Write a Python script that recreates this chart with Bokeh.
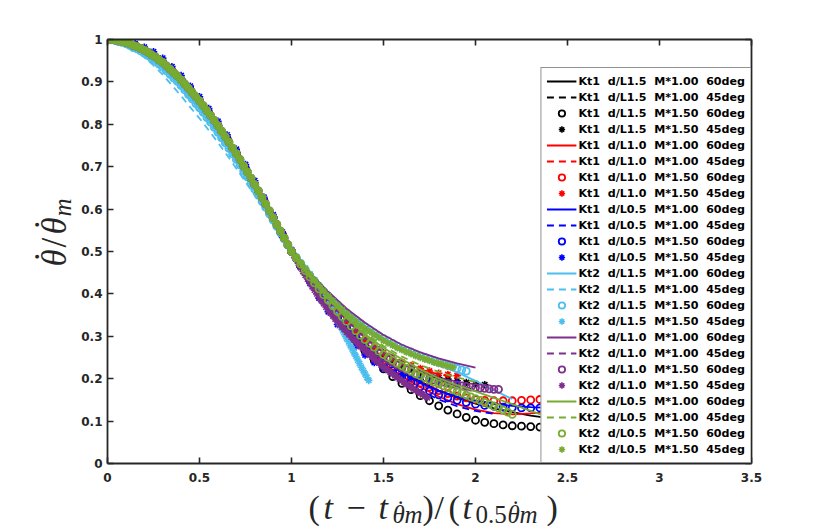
import math
from bokeh.plotting import figure
from bokeh.models import Range1d, LinearAxis, FixedTicker, Label
from bokeh.layouts import column, row
from bokeh.embed import file_html
from bokeh.resources import INLINE

# ---------------- data ----------------
X_TICKS = [0, 0.5, 1, 1.5, 2, 2.5, 3, 3.5]
X_TICK_LABELS = ["0", "0.5", "1", "1.5", "2", "2.5", "3", "3.5"]
Y_TICKS = [0, 0.1, 0.2, 0.3, 0.4, 0.5, 0.6, 0.7, 0.8, 0.9, 1]
Y_TICK_LABELS = ["0", "0.1", "0.2", "0.3", "0.4", "0.5", "0.6", "0.7", "0.8", "0.9", "1"]

# common early part of the curves (x <= 1)
HEAD1_X = [0.00, 0.05, 0.10, 0.15, 0.20, 0.25, 0.30, 0.35, 0.40, 0.45, 0.50,
           0.55, 0.60, 0.65, 0.70, 0.75, 0.80, 0.85, 0.90, 0.95, 1.00]
HEAD1_Y = [1.000, 0.998, 0.993, 0.985, 0.975, 0.962, 0.946, 0.926, 0.905, 0.880, 0.855,
           0.827, 0.797, 0.765, 0.731, 0.695, 0.658, 0.620, 0.580, 0.540, 0.500]
HEAD1_Y_HI = [1.000, 0.999, 0.996, 0.990, 0.982, 0.971, 0.956, 0.936, 0.915, 0.890, 0.865,
              0.837, 0.807, 0.775, 0.741, 0.705, 0.667, 0.628, 0.587, 0.546, 0.504]
HEAD1_Y_LB = [1.000, 0.996, 0.987, 0.974, 0.958, 0.939, 0.917, 0.892, 0.867, 0.840, 0.814,
              0.786, 0.757, 0.727, 0.696, 0.664, 0.632, 0.600, 0.566, 0.533, 0.500]

HEAD2_X = [0.00, 0.02, 0.04, 0.06, 0.08, 0.10, 0.12, 0.14, 0.16, 0.18, 0.20, 0.22, 0.24,
           0.26, 0.28, 0.30, 0.32, 0.34, 0.36, 0.38, 0.40, 0.42, 0.44, 0.46, 0.48, 0.50,
           0.52, 0.54, 0.56, 0.58, 0.60, 0.62, 0.64, 0.66, 0.68, 0.70, 0.72, 0.74, 0.76,
           0.78, 0.80, 0.82, 0.84, 0.86, 0.88, 0.90, 0.92, 0.94, 0.96, 0.98, 1.00]
HEAD2_Y = [1.000, 1.000, 0.999, 0.997, 0.995, 0.993, 0.990, 0.986, 0.983, 0.979, 0.975,
           0.970, 0.964, 0.959, 0.952, 0.946, 0.938, 0.930, 0.922, 0.914, 0.905, 0.895,
           0.885, 0.875, 0.865, 0.855, 0.844, 0.832, 0.821, 0.809, 0.797, 0.784, 0.771,
           0.758, 0.744, 0.731, 0.717, 0.702, 0.688, 0.673, 0.658, 0.643, 0.627, 0.612,
           0.596, 0.580, 0.564, 0.548, 0.532, 0.516, 0.500]
HEAD2_Y_LB = [1.000, 0.999, 0.998, 0.995, 0.993, 0.990, 0.986, 0.981, 0.978, 0.973, 0.968,
              0.962, 0.955, 0.950, 0.942, 0.935, 0.926, 0.918, 0.909, 0.901, 0.891, 0.881,
              0.870, 0.860, 0.849, 0.839, 0.828, 0.816, 0.805, 0.793, 0.781, 0.768, 0.756,
              0.743, 0.730, 0.717, 0.704, 0.689, 0.676, 0.661, 0.647, 0.633, 0.618, 0.604,
              0.589, 0.574, 0.559, 0.544, 0.530, 0.515, 0.500]

# x of the later part
LINE_TX = [1.1, 1.2, 1.3, 1.4, 1.5, 1.6, 1.7, 1.8, 1.9, 2.0, 2.1, 2.2, 2.3, 2.4]
TAIL1_X = [1.05, 1.10, 1.15, 1.20, 1.25, 1.30, 1.35, 1.40, 1.45, 1.50, 1.55, 1.60, 1.65,
           1.70, 1.75, 1.80, 1.85, 1.90, 1.95, 2.00, 2.05, 2.10, 2.15, 2.20, 2.25, 2.30,
           2.35, 2.40, 2.45, 2.50]
TAIL2_X = [1.025, 1.050, 1.075, 1.100, 1.125, 1.150, 1.175, 1.200, 1.225, 1.250, 1.275,
           1.300, 1.325, 1.350, 1.375, 1.400, 1.425, 1.450, 1.475, 1.500, 1.525, 1.550,
           1.575, 1.600, 1.625, 1.650, 1.675, 1.700, 1.725, 1.750, 1.775, 1.800, 1.825,
           1.850, 1.875, 1.900, 1.925, 1.950, 1.975, 2.000, 2.025, 2.050, 2.075, 2.100,
           2.125, 2.150, 2.175, 2.200]

# later part of every series (y)
BK_SOLID = [0.435, 0.376, 0.326, 0.284, 0.248, 0.218, 0.193, 0.172, 0.155, 0.141, 0.130, 0.121, 0.113, 0.107]
BK_DASH = [0.440, 0.385, 0.338, 0.298, 0.265, 0.238, 0.216, 0.198, 0.184, 0.173]
BK_CIRC = [0.466, 0.433, 0.401, 0.370, 0.342, 0.315, 0.289, 0.265, 0.243, 0.223, 0.205, 0.189,
           0.174, 0.160, 0.148, 0.136, 0.126, 0.117, 0.109, 0.102, 0.097, 0.094, 0.091, 0.089,
           0.088, 0.087, 0.086, 0.085, 0.085, 0.084]
BK_STAR = [0.468, 0.437, 0.407, 0.379, 0.353, 0.329, 0.307, 0.288, 0.271, 0.256, 0.243, 0.232,
           0.223, 0.215, 0.209, 0.203, 0.199, 0.195, 0.191, 0.188, 0.186]
RD_SOLID = [0.432, 0.372, 0.320, 0.275, 0.237, 0.205, 0.180, 0.158, 0.140, 0.127, 0.119, 0.116, 0.118, 0.122]
RD_DASH = [0.440, 0.385, 0.338, 0.298, 0.266, 0.240, 0.222, 0.210, 0.203]
RD_CIRC = [0.466, 0.434, 0.403, 0.374, 0.347, 0.322, 0.299, 0.278, 0.259, 0.242, 0.227, 0.213,
           0.201, 0.190, 0.180, 0.172, 0.165, 0.159, 0.155, 0.151, 0.149, 0.148, 0.148, 0.148,
           0.149, 0.150, 0.151, 0.152, 0.153, 0.153]
RD_STAR = [0.468, 0.437, 0.408, 0.381, 0.356, 0.333, 0.312, 0.293, 0.276, 0.261, 0.249, 0.239,
           0.231, 0.224, 0.218, 0.213, 0.210, 0.207]
BL_SOLID = [0.434, 0.374, 0.322, 0.279, 0.243, 0.214, 0.190, 0.172, 0.158, 0.148, 0.141, 0.136, 0.133, 0.131]
BL_DASH = [0.432, 0.370, 0.316, 0.270, 0.231, 0.199, 0.172, 0.151, 0.135, 0.124, 0.117]
BL_CIRC = [0.466, 0.434, 0.403, 0.373, 0.345, 0.319, 0.295, 0.273, 0.253, 0.235, 0.219, 0.205,
           0.192, 0.181, 0.171, 0.162, 0.155, 0.149, 0.144, 0.140, 0.137, 0.135, 0.133, 0.132,
           0.131, 0.131, 0.131, 0.131, 0.131, 0.131]
BL_STAR = [0.462, 0.425, 0.390, 0.358, 0.328, 0.301, 0.277, 0.256, 0.238, 0.224, 0.214, 0.207,
           0.202, 0.198, 0.195, 0.193, 0.191, 0.190]
LB_SOLID = [0.450, 0.400, 0.360, 0.325, 0.296, 0.272, 0.252, 0.234, 0.215, 0.195, 0.173, 0.152]
LB_DASH = [0.445, 0.395, 0.352, 0.316, 0.287, 0.265, 0.248, 0.236, 0.228]
LB_CIRC = [0.486, 0.472, 0.457, 0.443, 0.430, 0.418, 0.406, 0.395, 0.384, 0.374, 0.364, 0.355,
           0.346, 0.338, 0.330, 0.322, 0.315, 0.308, 0.301, 0.295, 0.289, 0.283, 0.277, 0.272,
           0.267, 0.263, 0.258, 0.254, 0.250, 0.246, 0.242, 0.238, 0.235, 0.231, 0.228, 0.224,
           0.221, 0.218]
LB_STAR_X = [1.025, 1.05, 1.075, 1.10, 1.125, 1.15, 1.175, 1.20, 1.21, 1.22, 1.23, 1.24,
             1.25, 1.26, 1.27, 1.28, 1.29, 1.30, 1.31, 1.32, 1.33, 1.34, 1.35, 1.36, 1.37,
             1.38, 1.39, 1.40, 1.41, 1.42]
LB_STAR = [0.487, 0.474, 0.461, 0.447, 0.433, 0.418, 0.403, 0.385, 0.375, 0.366, 0.357, 0.348,
           0.339, 0.330, 0.321, 0.313, 0.304, 0.295, 0.287, 0.278, 0.270, 0.261, 0.253, 0.244,
           0.236, 0.227, 0.219, 0.211, 0.203, 0.196]
PU_SOLID = [0.450, 0.405, 0.365, 0.332, 0.303, 0.280, 0.262, 0.248, 0.236, 0.226]
PU_DASH = [0.440, 0.386, 0.340, 0.300, 0.267, 0.240, 0.219, 0.205]
PU_CIRC = [0.484, 0.467, 0.451, 0.436, 0.421, 0.406, 0.392, 0.378, 0.365, 0.352, 0.340, 0.328,
           0.317, 0.306, 0.296, 0.286, 0.277, 0.268, 0.260, 0.252, 0.245, 0.238, 0.232, 0.226,
           0.221, 0.216, 0.211, 0.207, 0.203, 0.200, 0.197, 0.194, 0.192, 0.189, 0.187, 0.185,
           0.183, 0.182, 0.180, 0.179, 0.178, 0.177, 0.176, 0.175, 0.175]
PU_STAR_X = [1.0125, 1.025, 1.0375, 1.05, 1.0625, 1.075, 1.0875, 1.1, 1.1125, 1.125, 1.1375,
             1.15, 1.1625, 1.175, 1.1875, 1.2, 1.2125, 1.225, 1.2375, 1.25, 1.2625, 1.275,
             1.2875, 1.3, 1.3125, 1.325, 1.3375, 1.35, 1.3625, 1.375, 1.3875, 1.4, 1.4125,
             1.425, 1.4375, 1.45, 1.4625, 1.475, 1.4875, 1.5, 1.5125, 1.525, 1.5375, 1.55,
             1.5625, 1.575, 1.5875, 1.6, 1.6125, 1.625, 1.6375, 1.65, 1.6625, 1.675, 1.6875,
             1.7, 1.7125, 1.725, 1.7375]
PU_STAR = [0.491, 0.482, 0.472, 0.463, 0.453, 0.444, 0.435, 0.426, 0.417, 0.409, 0.400,
           0.392, 0.384, 0.377, 0.369, 0.362, 0.355, 0.348, 0.341, 0.335, 0.328, 0.322,
           0.316, 0.310, 0.304, 0.298, 0.292, 0.287, 0.281, 0.276, 0.271, 0.266, 0.261,
           0.256, 0.251, 0.246, 0.241, 0.237, 0.232, 0.228, 0.223, 0.219, 0.215, 0.211,
           0.207, 0.203, 0.199, 0.195, 0.191, 0.187, 0.183, 0.180, 0.176, 0.173, 0.169,
           0.166, 0.162, 0.159, 0.155]
GR_SOLID = [0.440, 0.388, 0.343, 0.305, 0.273, 0.246, 0.222, 0.201, 0.185, 0.170, 0.155, 0.140, 0.124, 0.109]
GR_DASH = [0.442, 0.390, 0.345, 0.308, 0.277, 0.252, 0.232, 0.216, 0.203, 0.192]
GR_CIRC = [0.485, 0.470, 0.455, 0.440, 0.426, 0.412, 0.398, 0.385, 0.372, 0.359, 0.347, 0.335,
           0.324, 0.313, 0.302, 0.292, 0.283, 0.274, 0.265, 0.257, 0.250, 0.243, 0.236, 0.230,
           0.224, 0.218, 0.212, 0.207, 0.202, 0.197, 0.192, 0.188, 0.183, 0.179, 0.174, 0.170,
           0.166, 0.161, 0.157, 0.153, 0.149, 0.144, 0.140, 0.135, 0.131, 0.126, 0.121, 0.116]
GR_STAR = [0.486, 0.472, 0.458, 0.445, 0.432, 0.419, 0.407, 0.395, 0.384, 0.373, 0.363, 0.353,
           0.344, 0.335, 0.326, 0.318, 0.311, 0.304, 0.297, 0.290, 0.284, 0.279, 0.273, 0.268,
           0.263, 0.259, 0.254, 0.250, 0.246, 0.243, 0.239, 0.236, 0.233, 0.230, 0.227]

LABELS = [
    "Kt1  d/L1.5  M*1.00  60deg", "Kt1  d/L1.5  M*1.00  45deg",
    "Kt1  d/L1.5  M*1.50  60deg", "Kt1  d/L1.5  M*1.50  45deg",
    "Kt1  d/L1.0  M*1.00  60deg", "Kt1  d/L1.0  M*1.00  45deg",
    "Kt1  d/L1.0  M*1.50  60deg", "Kt1  d/L1.0  M*1.50  45deg",
    "Kt1  d/L0.5  M*1.00  60deg", "Kt1  d/L0.5  M*1.00  45deg",
    "Kt1  d/L0.5  M*1.50  60deg", "Kt1  d/L0.5  M*1.50  45deg",
    "Kt2  d/L1.5  M*1.00  60deg", "Kt2  d/L1.5  M*1.00  45deg",
    "Kt2  d/L1.5  M*1.50  60deg", "Kt2  d/L1.5  M*1.50  45deg",
    "Kt2  d/L1.0  M*1.00  60deg", "Kt2  d/L1.0  M*1.00  45deg",
    "Kt2  d/L1.0  M*1.50  60deg", "Kt2  d/L1.0  M*1.50  45deg",
    "Kt2  d/L0.5  M*1.00  60deg", "Kt2  d/L0.5  M*1.00  45deg",
    "Kt2  d/L0.5  M*1.50  60deg", "Kt2  d/L0.5  M*1.50  45deg",
]

BLACK, RED, BLUE = "#000000", "#ff0000", "#0000ff"
LBLUE, PURPLE, GREEN = "#4dbeee", "#7e2f8e", "#77ac30"
AXIS_C = "#262626"


def line_xy(head_y, tail):
    return HEAD1_X + LINE_TX[:len(tail)], head_y + tail


def m1_xy(head_y, tail):
    return HEAD1_X + TAIL1_X[:len(tail)], head_y + tail


def m2_xy(head_y, tail, tail_x=TAIL2_X):
    return HEAD2_X + tail_x[:len(tail)], head_y + tail


SERIES = [
    (BLACK, "solid", line_xy(HEAD1_Y, BK_SOLID)),
    (BLACK, "dash", line_xy(HEAD1_Y, BK_DASH)),
    (BLACK, "circle", m1_xy(HEAD1_Y, BK_CIRC)),
    (BLACK, "star", m1_xy(HEAD1_Y, BK_STAR)),
    (RED, "solid", line_xy(HEAD1_Y, RD_SOLID)),
    (RED, "dash", line_xy(HEAD1_Y, RD_DASH)),
    (RED, "circle", m1_xy(HEAD1_Y, RD_CIRC)),
    (RED, "star", m1_xy(HEAD1_Y, RD_STAR)),
    (BLUE, "solid", line_xy(HEAD1_Y, BL_SOLID)),
    (BLUE, "dash", line_xy(HEAD1_Y, BL_DASH)),
    (BLUE, "circle", m1_xy(HEAD1_Y, BL_CIRC)),
    (BLUE, "star", m1_xy(HEAD1_Y_HI, BL_STAR)),
    (LBLUE, "solid", line_xy(HEAD1_Y, LB_SOLID)),
    (LBLUE, "dash", line_xy(HEAD1_Y_LB, LB_DASH)),
    (LBLUE, "circle", m2_xy(HEAD2_Y_LB, LB_CIRC)),
    (LBLUE, "star", m2_xy(HEAD2_Y_LB, LB_STAR, LB_STAR_X)),
    (PURPLE, "solid", line_xy(HEAD1_Y, PU_SOLID)),
    (PURPLE, "dash", line_xy(HEAD1_Y, PU_DASH)),
    (PURPLE, "circle", m2_xy(HEAD2_Y, PU_CIRC)),
    (PURPLE, "star", m2_xy(HEAD2_Y, PU_STAR, PU_STAR_X)),
    (GREEN, "solid", line_xy(HEAD1_Y, GR_SOLID)),
    (GREEN, "dash", line_xy(HEAD1_Y, GR_DASH)),
    (GREEN, "circle", m2_xy(HEAD2_Y, GR_CIRC)),
    (GREEN, "star", m2_xy(HEAD2_Y, GR_STAR)),
]

# ---------------- main figure ----------------
MAIN_H = 487
p = figure(width=754, height=MAIN_H, frame_width=644, frame_height=424,
           min_border_left=31, min_border_right=79, min_border_top=39,
           min_border_bottom=MAIN_H - 39 - 424,
           x_range=Range1d(0, 3.5), y_range=Range1d(0, 1),
           output_backend="svg", toolbar_location=None,
           background_fill_color="white", border_fill_color="white")
p.outline_line_color = None
p.xgrid.visible = False
p.ygrid.visible = False

for (color, kind, (xs, ys)), label in zip(SERIES, LABELS):
    if kind == "solid":
        p.line(xs, ys, line_color=color, line_width=1.8, legend_label=label)
    elif kind == "dash":
        p.line(xs, ys, line_color=color, line_width=1.8, line_dash="7 5", legend_label=label)
    elif kind == "circle":
        p.scatter(xs, ys, marker="circle", size=7, fill_color=None, line_color=color,
                  line_width=1.8, legend_label=label)
    else:
        p.scatter(xs, ys, marker="asterisk", size=7.5, line_color=color, line_width=1.6,
                  legend_label=label)


def style_axis(ax, ticks, labels, show):
    ax.ticker = FixedTicker(ticks=ticks)
    ax.major_label_overrides = {t: (l if show else "") for t, l in zip(ticks, labels)}
    ax.axis_line_color = AXIS_C
    ax.axis_line_width = 1.8
    ax.major_tick_line_color = AXIS_C
    ax.major_tick_line_width = 1.6
    ax.major_tick_in = 6
    ax.major_tick_out = 0
    ax.minor_tick_line_color = None
    ax.major_label_text_font = "DejaVu Sans"
    ax.major_label_text_font_style = "bold"
    ax.major_label_text_font_size = "12px"
    ax.major_label_text_color = AXIS_C


style_axis(p.xaxis[0], X_TICKS, X_TICK_LABELS, True)
style_axis(p.yaxis[0], Y_TICKS, Y_TICK_LABELS, True)
p.xaxis[0].major_label_standoff = 9
p.yaxis[0].major_label_standoff = 5

top = LinearAxis()
style_axis(top, X_TICKS, X_TICK_LABELS, False)
p.add_layout(top, "above")
right = LinearAxis()
style_axis(right, Y_TICKS, Y_TICK_LABELS, False)
p.add_layout(right, "right")

lg = p.legend[0]
lg.location = "bottom_right"
lg.margin = 0
lg.padding = 5
lg.spacing = 0
lg.label_height = 16
lg.glyph_height = 16
lg.glyph_width = 30
lg.label_standoff = 2
lg.label_text_font = "DejaVu Sans"
lg.label_text_font_style = "bold"
lg.label_text_font_size = "11.1px"
lg.label_text_color = "#000000"
lg.border_line_color = AXIS_C
lg.border_line_width = 1
lg.background_fill_color = "white"
lg.background_fill_alpha = 1

# ---------------- axis titles (math style, built from pieces) ----------------
MATH_FONT = "Liberation Serif"
DOT = "\u02d9"
# (text, left x on page, baseline y on page, size, style)
X_TITLE = [("(", 308, 518, 34, "normal"), ("t", 323, 518, 34, "italic"),
           ("\u2212", 346, 518, 34, "normal"), ("t", 378, 518, 34, "italic"),
           ("\u03b8", 392, 522, 25, "italic"), (DOT, 396, 517, 25, "normal"),
           ("m", 404, 522, 25, "italic"),
           (")", 422, 518, 34, "normal"), ("/", 434, 518, 34, "normal"),
           ("(", 448, 518, 34, "normal"), ("t", 462, 518, 34, "italic"),
           ("0.5", 475, 522, 25, "normal"), ("\u03b8", 507, 522, 25, "italic"),
           (DOT, 511, 517, 25, "normal"),
           ("m", 519, 522, 25, "italic"), (")", 546, 518, 34, "normal")]
# rotated: (text, baseline x on page, start y on page, size, style)
Y_TITLE = [("\u03b8", 65, 290, 35, "italic"), (DOT, 58, 286, 35, "normal"),
           ("/", 65, 271, 35, "normal"),
           ("\u03b8", 65, 258, 35, "italic"), (DOT, 58, 254, 35, "normal"),
           ("m", 70, 240, 25, "italic")]
SHIFT = 0.32  # renderer places these texts ~0.32 em lower than the given baseline


def blank(w, h):
    f = figure(width=w, height=h, min_border=0, x_range=Range1d(0, 1), y_range=Range1d(0, 1),
               x_axis_type=None, y_axis_type=None, output_backend="svg", toolbar_location=None,
               background_fill_color="white", border_fill_color="white")
    f.outline_line_color = None
    return f


yfig = blank(76, MAIN_H)
for txt, bx, sy, size, style in Y_TITLE:
    yfig.add_layout(Label(x=bx - SHIFT * size, y=MAIN_H - sy, x_units="screen", y_units="screen",
                          text=txt, angle=math.pi / 2, text_font=MATH_FONT,
                          text_font_size=f"{size}px", text_font_style=style,
                          text_color=AXIS_C, text_align="left", text_baseline="alphabetic"))

xfig = blank(830, 529 - MAIN_H)
for txt, lx, by, size, style in X_TITLE:
    xfig.add_layout(Label(x=lx, y=529 - by + SHIFT * size, x_units="screen", y_units="screen",
                          text=txt, text_font=MATH_FONT, text_font_size=f"{size}px",
                          text_font_style=style, text_color=AXIS_C, text_align="left",
                          text_baseline="alphabetic"))

layout = column(row(yfig, p), xfig)
open("out.html", "w").write(file_html(layout, INLINE))
